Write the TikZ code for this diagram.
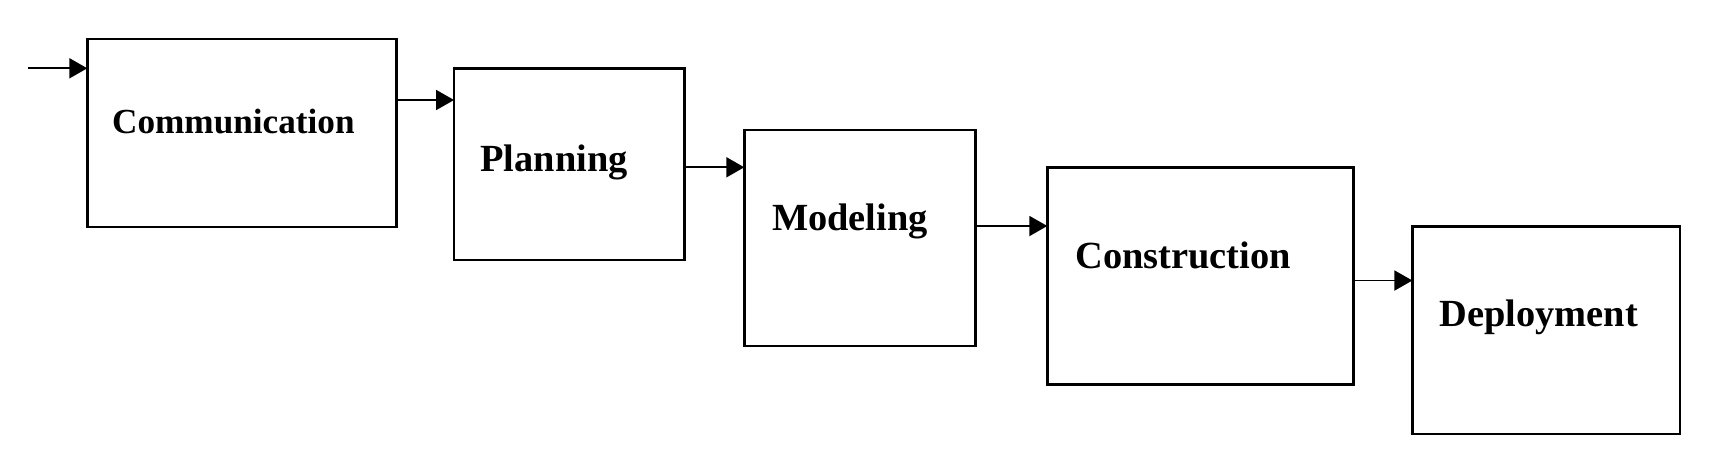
\documentclass[tikz,border=0pt]{standalone}
\usepackage{fontspec}
\setmainfont{Liberation Serif}
\usetikzlibrary{arrows.meta}
\begin{document}
\begin{tikzpicture}[x=0.5pt,y=-0.5pt,
  stagebox/.style={draw,line width=1.25pt,inner sep=0pt,outer sep=0pt},
  stagetext/.style={anchor=base west,inner sep=0pt,font=\bfseries\fontsize{19.2}{22}\selectfont},
  arr/.style={line width=0.95pt,-{Triangle[length=9pt,width=10pt]}}]
\useasboundingbox (0,0) rectangle (1722,472);
\node[stagebox,minimum width=154.5pt,minimum height=93.85pt] (c1) at (241.8,132.9) {};
\node[stagebox,minimum width=115.15pt,minimum height=95.85pt] (c2) at (569.2,164.2) {};
\node[stagebox,minimum width=115.6pt,minimum height=107.9pt] (c3) at (859.9,237.9) {};
\node[stagebox,minimum width=153pt,minimum height=108.3pt] (c4) at (1200.3,276) {};
\node[stagebox,minimum width=133.85pt,minimum height=103.85pt] (c5) at (1546.2,330.2) {};
\node[stagetext,font=\bfseries\fontsize{17.6}{21}\selectfont] (t1) at (111.7,133.3) {Communication};
\node[stagetext] (t2) at (480,171.7) {Planning};
\node[stagetext] (t3) at (771.7,230) {Modeling};
\node[stagetext] (t4) at (1075,268.3) {Construction};
\node[stagetext] (t5) at (1439.3,326.7) {Deployment};
\coordinate (start) at (28,68.3);
\coordinate (y12) at (0,100);
\coordinate (y23) at (0,167.3);
\coordinate (y34) at (0,226);
\coordinate (y45) at (0,280.5);
\draw[arr] (start) -- (start -| c1.west);
\draw[arr] (c1.east |- y12) -- (c2.west |- y12);
\draw[arr] (c2.east |- y23) -- (c3.west |- y23);
\draw[arr] (c3.east |- y34) -- (c4.west |- y34);
\draw[arr] (c4.east |- y45) -- (c5.west |- y45);
\end{tikzpicture}
\end{document}
